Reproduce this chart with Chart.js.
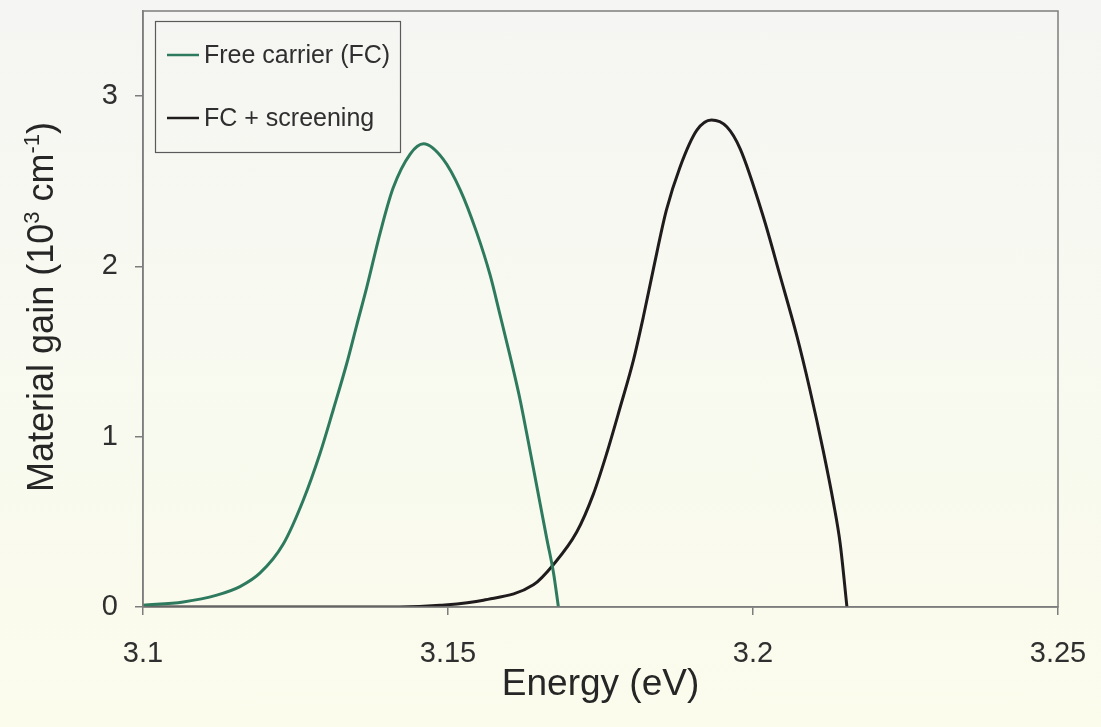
<!DOCTYPE html>
<html>
<head>
<meta charset="utf-8">
<title>Material gain</title>
<script src="https://cdn.jsdelivr.net/npm/chart.js@4/dist/chart.umd.min.js"></script>
<style>
  html, body { margin: 0; padding: 0; }
  body {
    width: 1101px;
    height: 727px;
    background: linear-gradient(180deg, #f5f6f3 0%, #f8f9f0 45%, #fbfcec 100%);
    overflow: hidden;
  }
  #wrap { position: relative; width: 1101px; height: 727px; }
</style>
</head>
<body>
<div id="wrap"><canvas id="gainChart" width="1101" height="727"></canvas></div>
<script>
// Free carrier gain spectrum
const fcEnergy = [3.1000, 3.1066, 3.1121, 3.1159, 3.1192, 3.1230, 3.1263, 3.1290, 3.1312, 3.1334,
  3.1350, 3.1367, 3.1389, 3.1410, 3.1438, 3.1460, 3.1492, 3.1520, 3.1547, 3.1569,
  3.1585, 3.1602, 3.1618, 3.1629, 3.1645, 3.1662, 3.1673, 3.1681];
const fcGain = [0.01, 0.03, 0.07, 0.12, 0.20, 0.37, 0.63, 0.90, 1.16, 1.43,
  1.65, 1.88, 2.20, 2.46, 2.66, 2.72, 2.63, 2.45, 2.20, 1.95,
  1.72, 1.47, 1.22, 1.02, 0.72, 0.40, 0.20, 0.00];

// Free carrier + screening
const scEnergy = [3.1000, 3.1200, 3.1421, 3.1487, 3.1558, 3.1640, 3.1673, 3.1711, 3.1738, 3.1760,
  3.1782, 3.1804, 3.1820, 3.1837, 3.1858, 3.1880, 3.1908, 3.1932, 3.1957, 3.1979,
  3.2017, 3.2044, 3.2072, 3.2093, 3.2115, 3.2132, 3.2143, 3.2154];
const scGain = [0.00, 0.00, 0.00, 0.01, 0.04, 0.13, 0.25, 0.44, 0.66, 0.90,
  1.17, 1.45, 1.70, 1.99, 2.33, 2.58, 2.80, 2.86, 2.82, 2.69,
  2.29, 1.95, 1.59, 1.28, 0.92, 0.61, 0.37, 0.00];

const seriesLabels = ['Free carrier (FC)', 'FC + screening'];
const xTickValues = [3.1, 3.15, 3.2, 3.25];
const xTickLabels = ['3.1', '3.15', '3.2', '3.25'];
const yTickValues = [0, 1, 2, 3];
const yTickLabels = ['0', '1', '2', '3'];

const FONT = "'Liberation Sans', Arial, sans-serif";
const AXIS_GREY = '#7d7d7d';
const TEXT = '#2f2f2f';

const toPoints = (xs, ys) => xs.map((x, i) => ({ x, y: ys[i] }));

// keep the plot box where layout.padding puts it
const noEdgePadding = (scale) => {
  scale.paddingTop = 0;
  scale.paddingBottom = 0;
  scale.paddingLeft = 0;
  scale.paddingRight = 0;
};

// Box around the plot area (top and right edges too)
const frame = {
  id: 'frame',
  afterDraw(chart) {
    const { ctx, chartArea: a } = chart;
    ctx.save();
    ctx.strokeStyle = AXIS_GREY;
    ctx.lineWidth = 1.5;
    ctx.strokeRect(a.left, a.top, a.right - a.left, a.bottom - a.top);
    ctx.restore();
  }
};

// Legend box in the top-left corner
const cornerLegend = {
  id: 'cornerLegend',
  afterDraw(chart) {
    const { ctx } = chart;
    const rows = [55, 118];
    ctx.save();
    ctx.strokeStyle = '#5a5a5a';
    ctx.lineWidth = 1.2;
    ctx.strokeRect(155.5, 21.5, 245, 131);
    ctx.font = `25px ${FONT}`;
    ctx.textBaseline = 'middle';
    chart.data.datasets.forEach((ds, i) => {
      ctx.strokeStyle = ds.borderColor;
      ctx.lineWidth = 2.5;
      ctx.beginPath();
      ctx.moveTo(167, rows[i]);
      ctx.lineTo(199, rows[i]);
      ctx.stroke();
      ctx.fillStyle = TEXT;
      ctx.fillText(ds.label, 204, rows[i] + 1);
    });
    ctx.restore();
  }
};

// Rotated y title with superscripts
const yTitle = {
  id: 'yTitle',
  afterDraw(chart) {
    const { ctx, chartArea: a } = chart;
    const parts = [
      { t: 'Material gain (10', sup: false },
      { t: '3', sup: true },
      { t: ' cm', sup: false },
      { t: '-1', sup: true },
      { t: ')', sup: false }
    ];
    const big = `36px ${FONT}`;
    const small = `22px ${FONT}`;
    ctx.save();
    let total = 0;
    parts.forEach(p => {
      ctx.font = p.sup ? small : big;
      p.w = ctx.measureText(p.t).width;
      total += p.w;
    });
    ctx.translate(53, (a.top + a.bottom) / 2 - 2);
    ctx.rotate(-Math.PI / 2);
    ctx.fillStyle = '#262626';
    ctx.textBaseline = 'alphabetic';
    let x = -total / 2;
    parts.forEach(p => {
      ctx.font = p.sup ? small : big;
      ctx.fillText(p.t, x, p.sup ? -14 : 0);
      x += p.w;
    });
    ctx.restore();
  }
};

document.addEventListener('DOMContentLoaded', () => {
  const ctx = document.getElementById('gainChart').getContext('2d');

  new Chart(ctx, {
    type: 'line',
    data: {
      datasets: [{
        label: seriesLabels[0],
        data: toPoints(fcEnergy, fcGain),
        borderColor: '#2e7a5e',
        borderWidth: 3,
        pointRadius: 0,
        fill: false,
        cubicInterpolationMode: 'monotone'
      }, {
        label: seriesLabels[1],
        data: toPoints(scEnergy, scGain),
        borderColor: '#201c1e',
        borderWidth: 3,
        pointRadius: 0,
        fill: false,
        cubicInterpolationMode: 'monotone'
      }]
    },
    options: {
      responsive: false,
      animation: false,
      layout: { padding: { top: 11, right: 43, left: 0, bottom: 0 } },
      plugins: {
        legend: { display: false },
        tooltip: { enabled: false }
      },
      scales: {
        x: {
          type: 'linear',
          min: 3.1,
          max: 3.25,
          afterBuildTicks: (scale) => {
            scale.ticks = xTickValues.map(v => ({ value: v }));
          },
          afterFit: (scale) => {
            scale.height = 120;
            noEdgePadding(scale);
          },
          grid: {
            drawOnChartArea: false,
            drawTicks: true,
            tickLength: 8,
            color: AXIS_GREY,
            lineWidth: 1.5
          },
          border: { display: true, color: AXIS_GREY, width: 1.5 },
          ticks: {
            padding: 22,
            maxRotation: 0,
            color: TEXT,
            font: { family: FONT, size: 29 },
            callback: (v, i) => xTickLabels[i]
          },
          title: {
            display: true,
            text: 'Energy (eV)',
            color: '#262626',
            font: { family: FONT, size: 37 },
            padding: { top: 0, bottom: 20 }
          }
        },
        y: {
          min: 0,
          max: 3.5,
          afterBuildTicks: (scale) => {
            scale.ticks = yTickValues.map(v => ({ value: v }));
          },
          afterFit: (scale) => {
            scale.width = 143;
            noEdgePadding(scale);
          },
          grid: {
            drawOnChartArea: false,
            drawTicks: true,
            tickLength: 8,
            color: AXIS_GREY,
            lineWidth: 1.5
          },
          border: { display: true, color: AXIS_GREY, width: 1.5 },
          ticks: {
            padding: 17,
            color: TEXT,
            font: { family: FONT, size: 29 },
            callback: (v, i) => yTickLabels[i]
          }
        }
      }
    },
    plugins: [frame, cornerLegend, yTitle]
  });
});
</script>
</body>
</html>
